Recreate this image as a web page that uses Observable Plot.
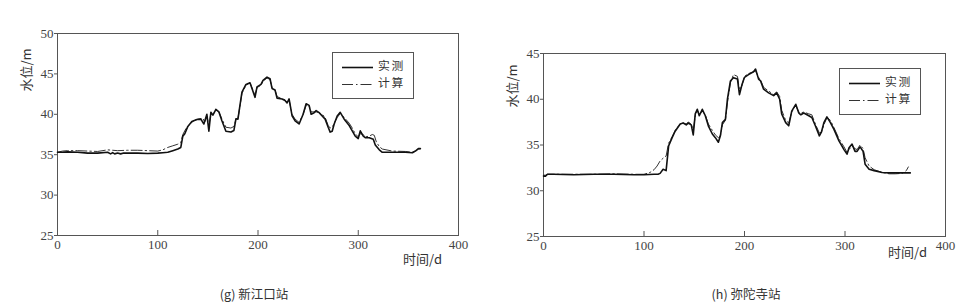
<!DOCTYPE html>
<html>
<head>
<meta charset="utf-8">
<script src="https://cdn.jsdelivr.net/npm/d3@7"></script>
<script src="https://cdn.jsdelivr.net/npm/@observablehq/plot@0.6"></script>
<style>
  html, body { margin: 0; padding: 0; background: #fff; }
  #page { position: relative; width: 966px; height: 308px; overflow: hidden; background: #fff;
          font-family: "Liberation Serif", "Noto Sans CJK SC", serif; color: #333; }
  .chart { position: absolute; top: 0; }
  .chart svg text { font-family: "Liberation Serif", "DejaVu Serif", serif !important; }
  .ylab { position: absolute; font-size: 13px; line-height: 14px; white-space: nowrap; transform: translate(-50%, -50%) rotate(-90deg); font-family: "Noto Sans CJK SC", sans-serif; color: #333; }
  .xlab { position: absolute; font-size: 13px; line-height: 14px; white-space: nowrap; font-family: "Noto Sans CJK SC", sans-serif; color: #333; }
  .cap { position: absolute; font-size: 12.5px; line-height: 14px; white-space: nowrap; transform: translateX(-50%); font-family: "Noto Sans CJK SC", sans-serif; color: #333; }
  .legend { position: absolute; box-sizing: border-box; border: 1px solid #555; background: #fff; }
  .legend svg { position: absolute; left: 0; top: 0; }
  .legend span { position: absolute; font-size: 11.8px; letter-spacing: 1.8px; font-family: "Noto Sans CJK SC", sans-serif; color: #333; line-height: 1; }
</style>
</head>
<body>
<div id="page"></div>
<script>
// ---------- data ----------
const xTicks = [0, 100, 200, 300, 400];
const yTicksG = [25, 30, 35, 40, 45, 50];
const yTicksH = [25, 30, 35, 40, 45];
const seriesNames = ["实测", "计算"];
const captionG = "(g) 新江口站";
const captionH = "(h) 弥陀寺站";
const yLabel = "水位/m";
const xLabel = "时间/d";

// (g) 新江口站 — observed
const gObsDay = [0, 5, 10, 20, 30, 40, 50, 53, 55, 57,
  60, 63, 66, 70, 80, 90, 100, 105, 110, 115,
  120, 123, 125, 127, 130, 134, 139, 143, 146, 149,
  151, 153, 155, 158, 161, 164, 168, 173, 176, 178,
  180, 182, 184, 188, 192, 194, 197, 199, 203, 205,
  209, 212, 214, 217, 219, 224, 227, 229, 231, 234,
  237, 241, 245, 248, 251, 253, 256, 258, 261, 264,
  267, 270, 272, 274, 276, 279, 282, 286, 291, 294,
  297, 300, 302, 305, 307, 311, 315, 317, 321, 324,
  334, 347, 354, 357, 360, 362];
const gObsLevel = [35.3, 35.3, 35.35, 35.3, 35.2, 35.2, 35.3, 35.1, 35.25, 35.1,
  35.2, 35.1, 35.2, 35.2, 35.2, 35.15, 35.2, 35.25, 35.3, 35.5,
  35.7, 35.9, 37.3, 37.6, 38.5, 39.1, 39.35, 39.4, 38.8, 40.0,
  37.9, 40.25, 39.9, 40.6, 40.3, 39.2, 37.9, 37.8, 38.0, 39.45,
  39.4, 41.1, 42.75, 43.7, 43.9, 43.2, 42.1, 43.4, 43.7, 44.2,
  44.6, 44.4, 43.2, 43.0, 42.0, 41.9, 41.7, 41.4, 41.9, 39.8,
  39.2, 38.8, 40.0, 41.3, 41.1, 40.0, 40.2, 40.45, 40.2, 39.8,
  39.4, 38.4, 37.8, 37.9, 38.8, 39.8, 40.25, 39.4, 38.6, 37.95,
  37.3, 37.0, 37.95, 37.3, 37.1, 37.1, 36.9, 36.2, 35.6, 35.3,
  35.3, 35.3, 35.25, 35.45, 35.75, 35.75];
// (g) 新江口站 — computed
const gCalDay = [0, 5, 10, 20, 30, 40, 50, 60, 70, 80,
  90, 100, 105, 110, 115, 120, 123, 125, 128, 132,
  136, 140, 145, 147, 149, 151, 153, 155, 158, 161,
  164, 168, 173, 176, 178, 180, 182, 184, 188, 192,
  194, 197, 199, 203, 205, 209, 212, 214, 217, 219,
  224, 227, 229, 231, 234, 237, 241, 245, 248, 251,
  253, 256, 258, 261, 264, 267, 270, 272, 274, 276,
  279, 282, 286, 291, 294, 297, 300, 302, 305, 307,
  311, 314, 316, 318, 321, 324, 334, 347, 354, 357,
  360, 362];
const gCalLevel = [35.3, 35.45, 35.5, 35.5, 35.45, 35.4, 35.6, 35.5, 35.55, 35.55,
  35.5, 35.45, 35.6, 35.9, 36.1, 36.3, 36.5, 37.5, 38.2, 38.8,
  39.2, 39.4, 39.5, 39.0, 39.8, 38.6, 40.1, 39.9, 40.6, 40.3,
  39.4, 38.4, 38.3, 38.5, 39.4, 39.5, 41.0, 42.6, 43.6, 43.9,
  43.3, 42.3, 43.3, 43.6, 44.1, 44.5, 44.3, 43.3, 43.0, 42.2,
  41.9, 41.8, 41.5, 41.8, 40.0, 39.4, 39.0, 40.0, 41.1, 41.0,
  40.3, 40.3, 40.3, 40.2, 40.0, 39.6, 38.6, 38.3, 38.4, 38.9,
  39.6, 40.1, 39.6, 38.9, 38.3, 37.6, 37.2, 37.6, 37.5, 37.2,
  37.3, 37.5, 37.4, 36.6, 36.0, 35.7, 35.45, 35.4, 35.3, 35.45,
  35.7, 35.75];

// (h) 弥陀寺站 — observed
const hObsDay = [0, 2, 4, 10, 30, 50, 70, 90, 100, 110,
  114, 116, 119, 122, 124.5, 128, 131, 136, 139, 142,
  144, 147, 149, 151, 153, 155, 158, 161, 164, 168,
  171, 174, 176, 178, 181, 183, 186, 189, 193, 195,
  197.5, 200, 204, 209, 211, 214, 216, 219, 224, 229,
  232, 235, 237, 241, 244, 247, 251, 254, 256, 259,
  264, 267, 270.5, 274.5, 276.5, 279, 282, 285.5, 289, 294,
  299, 302, 304, 307, 310, 312, 315, 318, 320, 324,
  329, 337, 344, 350, 357, 365];
const hObsLevel = [31.6, 31.6, 31.8, 31.8, 31.75, 31.8, 31.8, 31.75, 31.75, 31.8,
  31.8, 31.9, 32.35, 32.2, 34.9, 35.8, 36.5, 37.3, 37.4, 37.2,
  37.4, 37.2, 36.1, 38.4, 38.9, 38.2, 38.9, 38.2, 37.1, 36.2,
  35.8, 35.3, 36.0, 37.45, 37.8, 40.0, 42.0, 42.36, 42.2, 40.5,
  41.6, 42.4, 42.7, 43.0, 43.3, 42.2, 42.0, 41.1, 40.7, 40.4,
  40.7, 40.0, 38.4, 37.45, 37.1, 38.7, 39.45, 38.5, 38.3, 38.5,
  38.2, 38.0, 37.1, 36.0, 36.4, 37.45, 38.07, 37.45, 36.7, 35.45,
  34.5, 34.0, 34.7, 35.1, 34.3, 34.3, 34.8, 34.3, 32.9, 32.35,
  32.2, 32.0, 31.95, 31.95, 31.95, 31.95];
// (h) 弥陀寺站 — computed
const hCalDay = [0, 2, 4, 10, 30, 50, 70, 90, 100, 106,
  110, 113, 116, 119.5, 122, 124.5, 128, 131, 136, 139,
  142, 144, 147, 149, 151, 153, 155, 158, 161, 164,
  168, 171, 174, 176, 178, 181, 183, 186, 189, 193,
  195, 197.5, 200, 204, 209, 211, 214, 216, 219, 224,
  229, 232, 235, 237, 241, 244, 247, 251, 254, 256,
  259, 264, 267, 270.5, 274.5, 276.5, 279, 282, 285.5, 289,
  294, 299, 302, 304, 307, 310, 312, 315, 318, 320,
  324, 329, 337, 344, 350, 357, 361, 363];
const hCalLevel = [31.7, 31.7, 31.8, 31.8, 31.8, 31.8, 31.85, 31.8, 31.8, 32.0,
  32.3, 32.7, 33.25, 33.6, 33.8, 35.2, 35.9, 36.6, 37.3, 37.4,
  37.3, 37.5, 37.3, 36.6, 38.2, 38.8, 38.3, 38.7, 38.3, 37.3,
  36.6, 36.1, 35.8, 36.0, 37.2, 37.7, 39.6, 41.8, 42.7, 42.5,
  41.0, 41.5, 42.5, 42.8, 43.0, 43.1, 42.4, 42.1, 41.3, 40.9,
  40.5, 40.8, 40.3, 38.8, 37.7, 37.4, 38.6, 39.35, 38.6, 38.5,
  38.6, 38.4, 38.3, 37.3, 36.3, 36.4, 37.2, 38.0, 37.7, 36.9,
  35.7, 34.8, 34.2, 34.5, 34.9, 34.6, 34.5, 35.0, 34.6, 33.6,
  32.7, 32.3, 32.0, 31.85, 31.85, 31.9, 32.2, 32.6];

// ---------- styles ----------
const SERIF = "Liberation Serif, DejaVu Serif, serif";
const OBS_STYLE = {stroke: "#111", strokeWidth: 1.6};
const CAL_STYLE = {stroke: "#333", strokeWidth: 1, strokeDasharray: "11,3,1.5,3"};

function rows(days, levels) { return days.map((d, i) => ({day: d, level: levels[i]})); }

function makeChart(cfg) {
  const innerH = cfg.height - cfg.marginTop - cfg.marginBottom;
  return Plot.plot({
    width: cfg.width, height: cfg.height,
    marginLeft: cfg.marginLeft, marginRight: cfg.marginRight,
    marginTop: cfg.marginTop, marginBottom: cfg.marginBottom,
    x: {domain: [0, 400]},
    y: {domain: cfg.yDomain},
    style: {fontFamily: SERIF, fontSize: "13px", color: "#444", background: "transparent", overflow: "visible"},
    marks: [
      Plot.axisY({ticks: cfg.yTicks, tickSize: 3, tickPadding: 1, label: null, stroke: "#555", fontFamily: SERIF, fontSize: 13}),
      Plot.axisX({ticks: xTicks, tickSize: 0, tickPadding: 4, label: null, fontFamily: SERIF, fontSize: 13}),
      Plot.ruleX(xTicks.slice(1, -1), {stroke: "#555", insetTop: innerH - 5}),
      Plot.frame({stroke: "#555", strokeWidth: 1}),
      Plot.line(rows(cfg.calDay, cfg.calLevel), {x: "day", y: "level", ...CAL_STYLE}),
      Plot.line(rows(cfg.obsDay, cfg.obsLevel), {x: "day", y: "level", ...OBS_STYLE})
    ]
  });
}

const page = document.getElementById("page");

function addChart(left, cfg) {
  const div = document.createElement("div");
  div.className = "chart";
  div.style.left = left + "px";
  div.appendChild(makeChart(cfg));
  page.appendChild(div);
}

addChart(0, {
  width: 483, height: 270, marginLeft: 57, marginRight: 25, marginTop: 33, marginBottom: 35,
  yDomain: [25, 50], yTicks: yTicksG,
  obsDay: gObsDay, obsLevel: gObsLevel, calDay: gCalDay, calLevel: gCalLevel
});
addChart(483, {
  width: 483, height: 270, marginLeft: 60, marginRight: 21, marginTop: 53, marginBottom: 34,
  yDomain: [25, 45], yTicks: yTicksH,
  obsDay: hObsDay, obsLevel: hObsLevel, calDay: hCalDay, calLevel: hCalLevel
});

function addText(cls, text, left, top) {
  const d = document.createElement("div");
  d.className = cls;
  d.textContent = text;
  d.style.left = left + "px";
  d.style.top = top + "px";
  page.appendChild(d);
  return d;
}

// axis labels
addText("ylab", yLabel, 26, 70);
addText("ylab", yLabel, 512, 86);
addText("xlab", xLabel, 403, 252);
addText("xlab", xLabel, 888, 245);
// captions
addText("cap", captionG, 254, 287);
addText("cap", captionH, 746, 287);

// legends
function addLegend(left, top) {
  const box = document.createElement("div");
  box.className = "legend";
  box.style.left = left + "px";
  box.style.top = top + "px";
  box.style.width = "82px";
  box.style.height = "47px";
  const ns = "http://www.w3.org/2000/svg";
  const svg = document.createElementNS(ns, "svg");
  svg.setAttribute("width", 82);
  svg.setAttribute("height", 47);
  [[OBS_STYLE, 14.5], [CAL_STYLE, 31.5]].forEach(([st, y]) => {
    const l = document.createElementNS(ns, "line");
    l.setAttribute("x1", 9); l.setAttribute("x2", 40);
    l.setAttribute("y1", y); l.setAttribute("y2", y);
    l.setAttribute("stroke", st.stroke);
    l.setAttribute("stroke-width", st.strokeWidth);
    if (st.strokeDasharray) l.setAttribute("stroke-dasharray", st.strokeDasharray);
    svg.appendChild(l);
  });
  box.appendChild(svg);
  seriesNames.forEach((name, i) => {
    const s = document.createElement("span");
    s.textContent = name;
    s.style.left = "45px";
    s.style.top = (i === 0 ? 6 : 23.4) + "px";
    box.appendChild(s);
  });
  page.appendChild(box);
}
addLegend(332, 52);
addLegend(839, 68);
</script>
</body>
</html>
